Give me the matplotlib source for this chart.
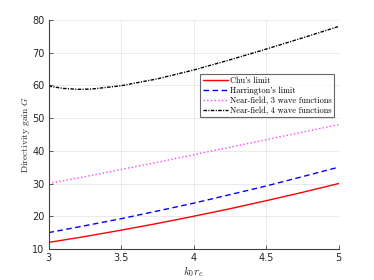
import matplotlib
matplotlib.use("Agg")
import matplotlib.pyplot as plt

plt.rcParams["mathtext.fontset"] = "cm"

# Valores
ka = [3.0, 3.25, 3.5, 3.75, 4.0, 4.25, 4.5, 4.75, 5.0]
chu = [12, 13.8, 15.75, 17.8, 20, 22.3, 24.75, 27.3, 30]
harrington = [15, 17.1, 19.25, 21.6, 24, 26.6, 29.25, 32.1, 35]
nf3 = [30, 32.1, 34.3, 36.5, 38.8, 41.1, 43.4, 45.7, 48]
ka4 = [3.0, 3.1, 3.2, 3.3, 3.5, 3.75, 4.0, 4.25, 4.5, 4.75, 5.0]
nf4 = [59.8, 59.1, 58.8, 58.9, 59.9, 62.0, 64.7, 67.8, 71.1, 74.5, 78.0]

fig = plt.figure(figsize=(3.74, 2.8), dpi=100)
ax = fig.add_axes([48.5 / 374, 31 / 280, 290 / 374, 229 / 280])

ax.plot(ka, chu, color="red", lw=1.0, label="Chu's limit")
ax.plot(ka, harrington, color="blue", lw=1.0, ls=(0, (4, 2.5)), label="Harrington's limit")
ax.plot(ka, nf3, color="#ff40ff", lw=1.0, ls=":", label="Near-field, 3 wave functions")
ax.plot(ka4, nf4, color="black", lw=1.0, ls=(0, (2.5, 1, 0.8, 1)), label="Near-field, 4 wave functions")

ax.set_xlim(3, 5)
ax.set_ylim(10, 80)
ax.set_xticks([3, 3.5, 4, 4.5, 5])
ax.set_xticklabels(["3", "3.5", "4", "4.5", "5"])
ax.set_yticks(range(10, 81, 10))

ax.grid(True, color="#e6e6e6", lw=0.6)
ax.set_axisbelow(True)
for s in ["top", "right"]:
    ax.spines[s].set_visible(False)
for s in ["left", "bottom"]:
    ax.spines[s].set_color("#404040")
    ax.spines[s].set_linewidth(0.8)
ax.tick_params(direction="in", length=3, width=0.6, colors="#404040", labelsize=7, pad=3)
for t in ax.get_xticklabels() + ax.get_yticklabels():
    t.set_color("#262626")

ax.set_xlabel(r"$k_0 r_e$", fontsize=8, color="#262626", labelpad=1)
ax.set_ylabel(r"Directivity gain $G$", fontsize=6.8, color="#262626",
              fontfamily="cmr10", labelpad=0)

leg = ax.legend(loc="upper right", bbox_to_anchor=(0.985, 0.765),
                prop={"family": "cmr10", "size": 6}, frameon=True, fancybox=False,
                handlelength=3, handletextpad=0.3, borderpad=0.3, labelspacing=0.2,
                borderaxespad=0)
leg.get_frame().set_edgecolor("#404040")
leg.get_frame().set_linewidth(0.8)

plt.savefig("out.png", dpi=100)
plt.close()
